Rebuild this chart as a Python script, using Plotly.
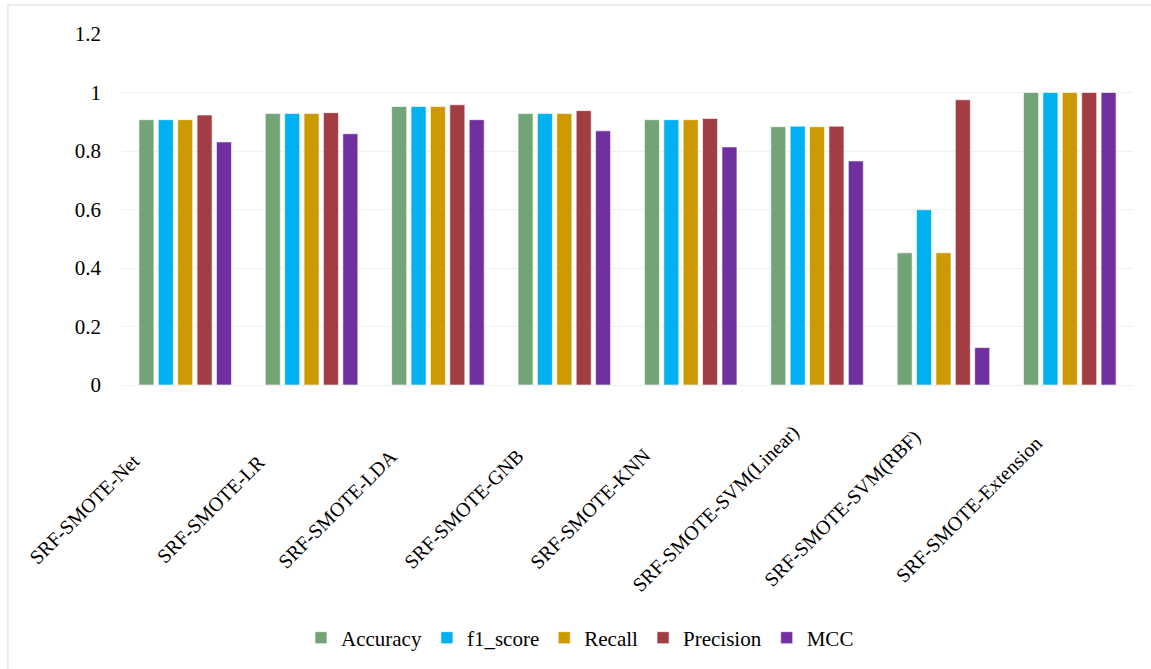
import plotly.graph_objects as go

categories = ["SRF-SMOTE-Net", "SRF-SMOTE-LR", "SRF-SMOTE-LDA", "SRF-SMOTE-GNB",
              "SRF-SMOTE-KNN", "SRF-SMOTE-SVM(Linear)", "SRF-SMOTE-SVM(RBF)", "SRF-SMOTE-Extension"]
accuracy  = [0.907, 0.928, 0.952, 0.928, 0.907, 0.883, 0.452, 1.0]
f1_score  = [0.907, 0.928, 0.952, 0.928, 0.907, 0.885, 0.599, 1.0]
recall    = [0.907, 0.928, 0.952, 0.928, 0.907, 0.883, 0.452, 1.0]
precision = [0.923, 0.931, 0.958, 0.938, 0.911, 0.885, 0.975, 1.0]
mcc       = [0.831, 0.859, 0.907, 0.869, 0.814, 0.766, 0.128, 1.0]

series = [("Accuracy", accuracy, "#73A478"),
          ("f1_score", f1_score, "#00B0F0"),
          ("Recall", recall, "#CC9900"),
          ("Precision", precision, "#A23D43"),
          ("MCC", mcc, "#7030A0")]

FONT = "Liberation Serif"

fig = go.Figure()
for name, vals, col in series:
    fig.add_trace(go.Bar(x=categories, y=vals, name=name, marker_color=col,
                         marker_line=dict(color="rgba(255,255,255,0.6)", width=1)))

for c in categories:
    fig.add_annotation(x=c, y=-0.352, xref="x", yref="paper", text=c, showarrow=False,
                       textangle=-45, xanchor="center", yanchor="middle", xshift=-101,
                       font=dict(family=FONT, size=20, color="black"))

fig.update_layout(
    width=1151, height=669,
    margin=dict(l=122, r=18, t=34, b=283),
    paper_bgcolor="white", plot_bgcolor="white",
    barmode="group", bargap=0.233, bargroupgap=0.227,
    font=dict(family=FONT, size=21, color="black"),
    legend=dict(orientation="h", x=0.453, xanchor="center", y=-0.716, yanchor="middle",
                font=dict(family=FONT, size=21, color="black"), itemwidth=30),
    xaxis=dict(range=[-0.5, len(categories) - 0.5], autorange=False,
               showticklabels=False, showgrid=False, showline=False, ticks=""),
    yaxis=dict(range=[0, 1.2], dtick=0.2, tickvals=[0, 0.2, 0.4, 0.6, 0.8, 1, 1.2],
               ticktext=["0", "0.2", "0.4", "0.6", "0.8", "1", "1.2"],
               showgrid=True, gridcolor="#F0F0F0", gridwidth=1,
               zeroline=True, zerolinecolor="#F0F0F0", zerolinewidth=1,
               showline=False, ticks="", ticklabelstandoff=20,
               tickfont=dict(family=FONT, size=21, color="black")),
    shapes=[
        dict(type="line", xref="paper", yref="paper", x0=-0.1128, x1=-0.1128, y0=1.0824, y1=-0.9,
             line=dict(color="#E6E6E6", width=1.5)),
        dict(type="line", xref="paper", yref="paper", x0=-0.1128, x1=1.2, y0=1.0824, y1=1.0824,
             line=dict(color="#E6E6E6", width=1.5)),
    ],
)

fig.write_html("out.html")
